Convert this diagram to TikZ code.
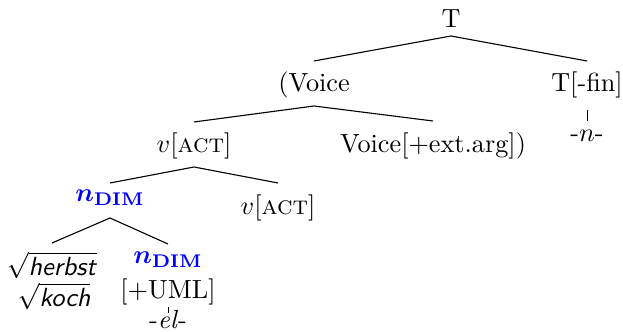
\RequirePackage{fix-cm}
\documentclass[tikz,border=0pt]{standalone}
\usetikzlibrary{calc}
\usepackage{amsmath,amssymb}
\begin{document}
\begin{tikzpicture}[x=0.408pt,y=-0.408pt,
  font=\fontsize{10.7}{13}\selectfont,
  lbl/.style={anchor=base,inner sep=0pt},
  blu/.style={lbl,text=blue},
  br/.style={line width=0.45pt}]
\useasboundingbox (0,0) rectangle (623,332);
\newcommand{\ndim}{{\boldmath$n_{\mathbf{DIM}}$}}
\node[lbl] (T) at (451,28) {T};
\node[lbl] (voice) at (314,92) {(Voice};
\node[lbl] (tfin) at (587,92) {T[-fin]};
\node[lbl] (nn) at (587,142) {-$n$-};
\node[lbl] (vact1) at (194,153) {$v$[\textsc{act}]};
\node[lbl] (vext) at (433,153) {Voice[+ext.arg])};
\node[blu] (ndim1) at (110,202) {\ndim};
\node[lbl] (vact2) at (278,215) {$v$[\textsc{act}]};
\node[lbl] (herbst) at (52,276) {$\sqrt{\textsf{\textit{herbst}}}$};
\node[lbl] (koch) at (54,307) {$\sqrt{\textsf{\textit{koch}}}$};
\node[blu] (ndim2) at (168,264) {\ndim};
\node[lbl] (uml) at (168,299) {[+UML]};
\node[lbl] (el) at (168,329) {-\textit{el}-};
\draw[br] ($(voice.base)+(0,-31)$) -- ($(T.base)+(0,8)$) -- ($(tfin.base)+(0,-31)$);
\draw[br] ($(vact1.base)+(0,-31)$) -- ($(voice.base)+(0,14)$) -- ($(vext.base)+(0,-32)$);
\draw[br] ($(ndim1.base)+(0,-19)$) -- ($(vact1.base)+(0,14)$) -- ($(vact2.base)+(0,-32)$);
\draw[br] ($(herbst.base)+(0,-33)$) -- ($(ndim1.base)+(0,16)$) -- ($(ndim2.base)+(0,-20)$);
\draw[line width=0.35pt] ($(tfin.base)+(0,18)$) -- ($(nn.base)+(0,-21)$);
\draw[line width=0.3pt] ($(uml.base)+(0,8)$) -- ($(el.base)+(0,-16)$);
\end{tikzpicture}
\end{document}
